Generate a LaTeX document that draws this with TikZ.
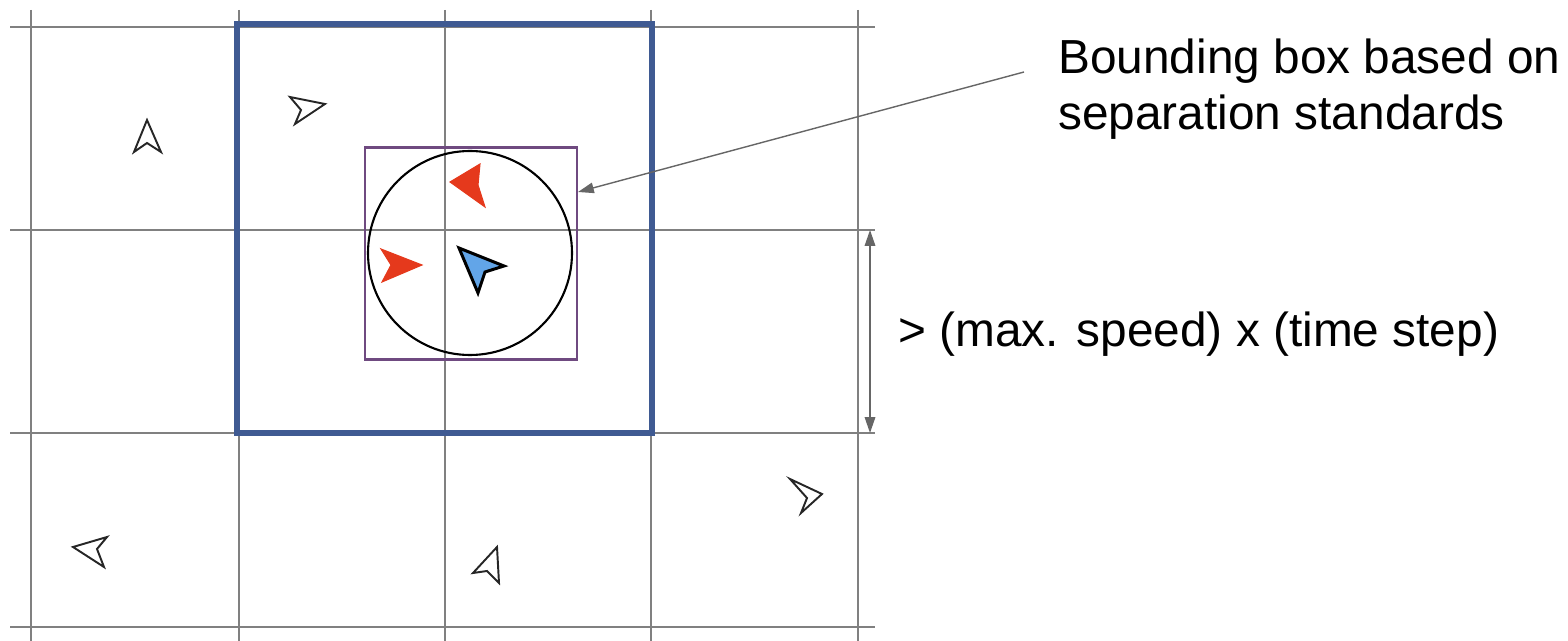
\documentclass[tikz,border=0pt]{standalone}
\usepackage{fontspec}
\setmainfont{Liberation Sans}
\definecolor{gridgray}{HTML}{808080}
\definecolor{sectorblue}{HTML}{3F5A92}
\definecolor{boxpurple}{HTML}{6F4A80}
\definecolor{leadgray}{HTML}{666666}
\definecolor{intruderred}{HTML}{E5391C}
\definecolor{ownblue}{HTML}{62A5E8}
\usetikzlibrary{arrows.meta}
\tikzset{
    gridline/.style={draw=gridgray, line width=1.6pt},
    aircraft/.style={draw=black!85, line width=1.1pt, line join=miter, fill=white},
    intruder/.style={draw=intruderred, line width=0.6pt, fill=intruderred},
    ownship/.style={draw=black, line width=1.7pt, line join=miter, fill=ownblue},
    leader/.style={draw=leadgray, line width=0.8pt, -{Triangle[length=9pt,width=6pt]}},
    dimline/.style={draw=leadgray, line width=0.8pt, {Triangle[length=9pt,width=6pt]}-{Triangle[length=9pt,width=6pt]}},
    caption/.style={font=\fontsize{27.2}{32.3}\selectfont, align=left, inner sep=0pt, anchor=base west}
}
\begin{document}
\begin{tikzpicture}[x=0.02cm, y=-0.02cm]
    \useasboundingbox (0,0) rectangle (1568,641);

    % Grid
    \draw[gridline] (31,10) -- (31,641);
    \draw[gridline] (239,10) -- (239,641);
    \draw[gridline] (445,10) -- (445,641);
    \draw[gridline] (651,10) -- (651,641);
    \draw[gridline] (858,10) -- (858,641);
    \draw[gridline] (10,27) -- (875,27);
    \draw[gridline] (10,230) -- (875,230);
    \draw[gridline] (10,433) -- (875,433);
    \draw[gridline] (10,627) -- (875,627);

    % Boxes
    \draw[draw=sectorblue, line width=3.4pt] (237,24) rectangle (652,433);
    \node[draw=boxpurple, line width=1.4pt, minimum size=212*0.02cm, inner sep=0pt] (bbox) at (471,253.5) {};
    \draw[black, line width=1.2pt] (470,253) circle (102);

    % Traffic
    \draw[aircraft] (147,120) -- (134,152) -- (147,143) -- (161,152) -- cycle;
    \draw[aircraft] (325,104) -- (290,97) -- (301,110) -- (295,124) -- cycle;
    \draw[aircraft] (73,547) -- (107,537) -- (97,549) -- (104,567) -- cycle;
    \draw[aircraft] (497,547) -- (473,573) -- (487,571) -- (499,583) -- cycle;
    \draw[aircraft] (822,494) -- (790,479) -- (807,498) -- (801,513) -- cycle;

    % Intruders and own aircraft
    \filldraw[intruder] (450,182) -- (480,164) -- (478,185) -- (485,207) -- cycle;
    \filldraw[intruder] (422,265) -- (381,249) -- (391,265) -- (382,282) -- cycle;
    \draw[ownship] (459,248) -- (504,266) -- (485,272) -- (478,293) -- cycle;

    % Leader and dimension
    \coordinate (leadstart) at (1024,72);
    \coordinate (leadend) at (578,192);
    \coordinate (dimtop) at (870,230);
    \coordinate (dimbot) at (870,433);
    \draw[leader] (leadstart) -- (leadend);
    \draw[dimline] (dimtop) -- (dimbot);

    % Labels
    \node[caption] (boxlabel) at (1058,74) {Bounding box based on};
    \node[caption] (boxlabeltwo) at (1058,130) {separation standards};
    \node[caption] (steplabel) at (898,347) {> (max. speed) x (time step)};
\end{tikzpicture}
\end{document}
